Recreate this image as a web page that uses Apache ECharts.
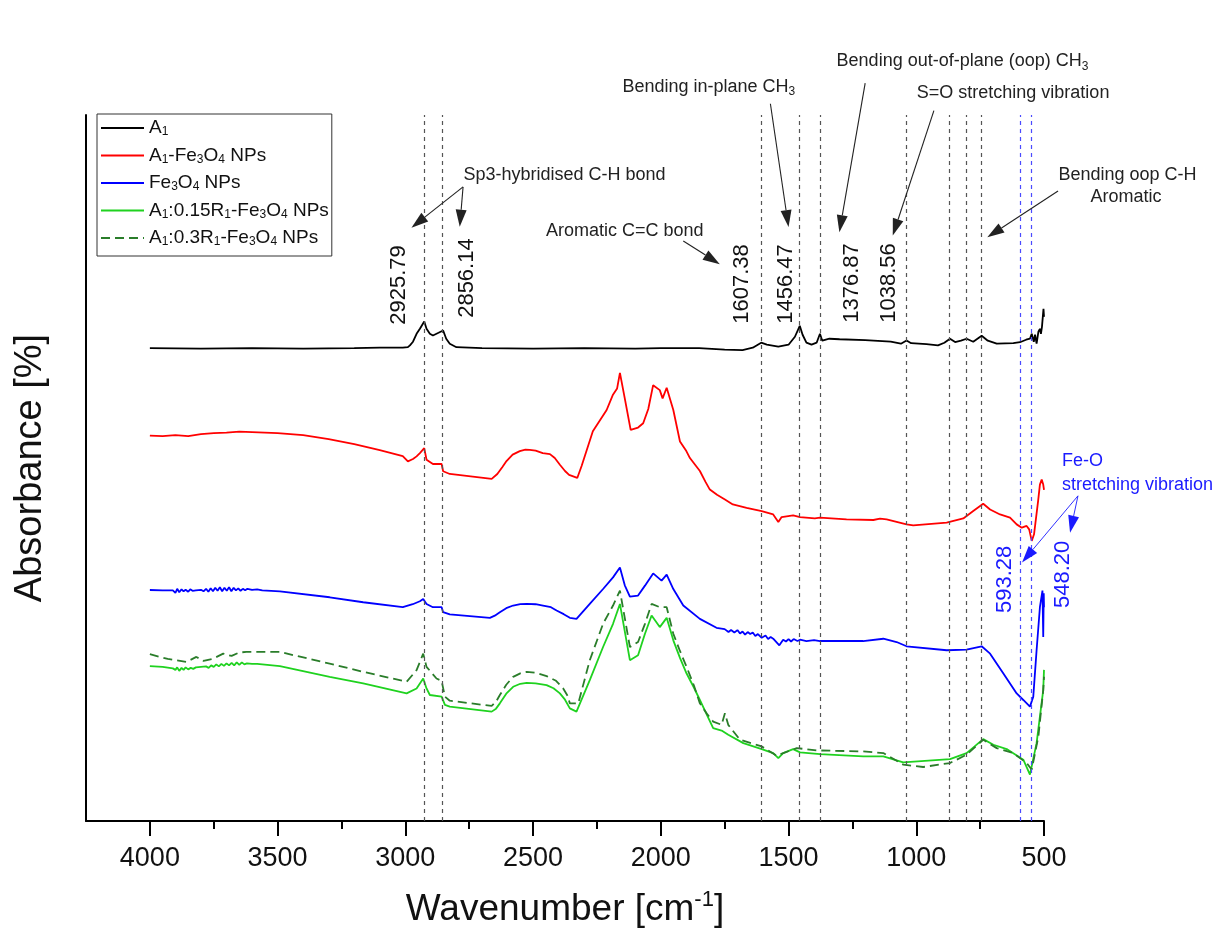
<!DOCTYPE html>
<html>
<head>
<meta charset="utf-8">
<script src="https://cdn.jsdelivr.net/npm/echarts@6/dist/echarts.min.js"></script>
<style>
  html, body { margin: 0; padding: 0; background: #ffffff; }
  #chart { width: 1221px; height: 936px; }
</style>
</head>
<body>
<div id="chart"></div>
<script>
// FTIR spectra: [wavenumber (cm-1), absorbance (offset, arb. units)]
const a1 = [[4000,47.55],[3800,47.5],[3600,47.55],[3400,47.5],[3200,47.55],[3100,47.6],[3010,47.6],[2990,47.65],[2982,47.83],[2970,48.2],[2956,49.0],[2943,49.5],[2926,50.23],[2917,49.5],[2904,49.0],[2892,48.83],[2870,49.1],[2852,49.33],[2840,48.5],[2826,48.0],[2800,47.65],[2700,47.55],[2500,47.5],[2300,47.55],[2100,47.5],[2000,47.55],[1850,47.55],[1750,47.4],[1680,47.35],[1640,47.6],[1607,48.1],[1585,47.9],[1540,47.7],[1500,47.9],[1475,48.7],[1456,49.8],[1445,48.9],[1430,48.1],[1410,47.9],[1390,48.1],[1377,49.0],[1368,48.3],[1340,48.5],[1300,48.45],[1200,48.35],[1100,48.2],[1060,48.0],[1038,48.33],[1020,48.05],[960,47.95],[915,47.83],[890,48.1],[868,48.5],[848,48.17],[825,48.3],[803,48.5],[777,48.2],[744,48.8],[720,48.3],[685,48.0],[620,48.05],[594,48.15],[570,48.4],[555,48.5],[548,49.0],[540,48.2],[535,48.9],[529,48.0],[522,49.2],[516,49.5],[512,49.0],[508,49.7],[504,49.9],[502,51.5],[500,50.7]];

const a1Fe3O4 = [[4000,38.75],[3950,38.7],[3900,38.8],[3850,38.7],[3800,38.9],[3750,39.0],[3700,39.05],[3650,39.15],[3600,39.1],[3550,39.05],[3500,39.0],[3400,38.8],[3300,38.4],[3200,37.9],[3100,37.3],[3010,36.7],[2990,36.17],[2970,36.4],[2956,36.67],[2943,37.0],[2926,37.5],[2917,36.33],[2892,35.9],[2858,35.9],[2852,35.17],[2826,34.9],[2662,34.4],[2640,34.9],[2620,35.6],[2604,36.2],[2580,36.85],[2552,37.2],[2530,37.35],[2513,37.33],[2490,37.25],[2462,37.0],[2434,36.9],[2415,36.5],[2395,35.83],[2375,35.2],[2359,34.8],[2327,34.5],[2310,35.7],[2266,39.2],[2212,41.33],[2188,42.83],[2171,43.5],[2160,45.07],[2141,42.5],[2118,39.33],[2089,39.57],[2069,40.0],[2049,41.43],[2030,43.83],[2004,43.33],[1993,42.5],[1977,43.57],[1951,41.33],[1925,38.17],[1900,37.2],[1886,36.5],[1865,35.8],[1847,35.2],[1825,34.1],[1808,33.33],[1780,32.8],[1749,32.33],[1718,31.83],[1664,31.5],[1605,31.17],[1560,30.83],[1540,30.07],[1527,30.57],[1482,30.73],[1455,30.57],[1397,30.43],[1377,30.5],[1273,30.33],[1168,30.27],[1142,30.4],[1116,30.33],[1038,29.83],[1012,29.73],[881,30.0],[816,30.43],[777,31.17],[738,31.9],[711,31.33],[672,30.83],[633,30.5],[607,29.83],[587,29.5],[568,29.67],[558,29.33],[548,28.17],[539,28.83],[523,32.2],[516,33.83],[509,34.33],[503,33.83],[500,33.3]];

const fe3o4 = [[4000,23.23],[3950,23.2],[3910,23.2],[3900,22.95],[3893,23.35],[3885,23.0],[3876,23.3],[3868,23.1],[3860,23.25],[3850,23.05],[3842,23.3],[3833,23.15],[3820,23.2],[3800,23.25],[3790,23.1],[3780,23.35],[3771,23.05],[3762,23.4],[3753,23.1],[3744,23.45],[3735,23.15],[3726,23.5],[3717,23.1],[3708,23.45],[3699,23.15],[3690,23.5],[3681,23.1],[3672,23.45],[3663,23.2],[3654,23.4],[3645,23.15],[3636,23.35],[3627,23.2],[3618,23.35],[3600,23.25],[3580,23.3],[3560,23.2],[3491,23.1],[3296,22.5],[3165,22.0],[3010,21.5],[2971,21.8],[2943,22.1],[2930,22.33],[2917,21.83],[2892,21.5],[2858,21.5],[2852,21.0],[2826,20.77],[2669,20.43],[2650,20.65],[2630,21.0],[2605,21.4],[2578,21.67],[2550,21.82],[2525,21.83],[2490,21.8],[2461,21.67],[2430,21.5],[2408,21.17],[2380,20.8],[2356,20.43],[2330,20.33],[2278,21.83],[2226,23.33],[2187,24.5],[2160,25.5],[2141,23.7],[2121,22.57],[2089,22.67],[2062,23.67],[2030,24.9],[1997,24.17],[1977,24.77],[1951,23.33],[1912,21.67],[1847,20.33],[1782,19.43],[1750,19.3],[1735,19.0],[1725,19.2],[1712,18.95],[1700,19.2],[1690,18.85],[1680,19.05],[1670,18.75],[1660,19.0],[1650,18.8],[1640,18.95],[1630,18.6],[1620,18.8],[1605,18.43],[1590,18.65],[1580,18.3],[1570,18.5],[1560,18.33],[1536,17.67],[1521,18.23],[1510,18.05],[1500,18.3],[1490,18.05],[1480,18.3],[1465,18.1],[1455,18.23],[1430,18.1],[1400,18.2],[1377,18.1],[1208,18.1],[1129,18.33],[1077,18.0],[1038,17.57],[881,17.17],[803,17.23],[744,17.57],[711,16.83],[659,14.83],[607,12.83],[581,12.17],[555,11.5],[542,12.5],[529,17.17],[516,21.5],[506,23.17],[503,18.5],[501,22.9],[500,21.5]];

const a1R015 = [[4000,15.57],[3950,15.5],[3910,15.35],[3900,15.2],[3893,15.45],[3885,15.1],[3876,15.4],[3868,15.2],[3860,15.45],[3850,15.25],[3840,15.4],[3830,15.3],[3820,15.45],[3800,15.5],[3780,15.55],[3770,15.4],[3760,15.65],[3750,15.5],[3740,15.75],[3730,15.55],[3720,15.8],[3710,15.6],[3700,15.85],[3690,15.65],[3680,15.9],[3670,15.65],[3660,15.95],[3650,15.7],[3640,15.95],[3630,15.75],[3620,15.85],[3600,15.8],[3580,15.8],[3560,15.75],[3491,15.57],[3296,14.5],[3165,13.83],[2995,12.83],[2956,13.33],[2930,14.33],[2917,13.33],[2904,12.67],[2858,12.5],[2845,11.67],[2826,11.5],[2662,11.0],[2645,11.3],[2630,11.83],[2605,12.8],[2578,13.5],[2550,13.8],[2525,13.9],[2490,13.85],[2447,13.67],[2420,13.35],[2395,12.83],[2375,12.2],[2356,11.33],[2330,11.0],[2278,14.17],[2226,17.5],[2187,19.83],[2160,21.83],[2121,16.17],[2089,16.67],[2062,18.83],[2036,20.67],[2004,19.5],[1977,20.43],[1951,18.17],[1925,16.4],[1899,14.83],[1870,13.4],[1847,12.17],[1820,10.7],[1795,9.33],[1762,9.1],[1756,9.0],[1736,8.67],[1677,7.83],[1605,7.23],[1560,6.83],[1540,6.33],[1521,6.83],[1482,7.23],[1455,6.9],[1377,6.73],[1208,6.5],[1129,6.5],[1051,5.9],[868,6.23],[803,6.83],[738,8.23],[698,7.67],[646,7.23],[581,6.17],[555,4.67],[529,7.83],[503,13.17],[500,15.2]];

const a1R03 = [[4000,16.77],[3930,16.3],[3857,16.0],[3818,16.5],[3790,16.1],[3752,16.33],[3713,16.83],[3680,16.6],[3650,16.95],[3622,17.0],[3491,17.0],[3296,15.83],[3165,15.0],[2995,14.0],[2956,15.17],[2930,16.83],[2917,15.5],[2878,14.33],[2858,14.1],[2845,12.5],[2826,12.1],[2662,11.57],[2645,12.0],[2630,12.67],[2605,13.7],[2578,14.5],[2550,14.85],[2525,15.0],[2490,14.9],[2447,14.57],[2410,14.1],[2382,13.33],[2365,12.6],[2356,11.83],[2323,11.83],[2278,16.17],[2226,19.83],[2187,21.67],[2160,23.17],[2121,17.5],[2089,18.0],[2062,19.83],[2036,21.83],[2004,21.5],[1977,21.5],[1951,18.83],[1925,17.1],[1899,15.5],[1870,13.6],[1847,11.83],[1820,10.8],[1795,10.0],[1762,9.67],[1749,10.83],[1736,9.67],[1690,8.17],[1605,7.5],[1547,6.57],[1468,7.33],[1390,7.1],[1208,7.0],[1129,6.83],[1051,5.67],[973,5.43],[868,5.83],[803,6.67],[738,8.17],[685,7.33],[620,6.83],[568,5.83],[548,5.17],[522,8.5],[503,13.17],[500,14.5]];

// Assigned band positions (cm-1)
const peakLines = [2925.79, 2856.14, 1607.38, 1456.47, 1376.87, 1038.56, 871, 806, 745];
const labelledPeaks = [2925.79, 2856.14, 1607.38, 1456.47, 1376.87, 1038.56];
const feOPeaks = [593.28, 548.20];

const xTicks = [500, 1000, 1500, 2000, 2500, 3000, 3500, 4000];

const FONT = "'Liberation Sans', Arial, sans-serif";

const seriesDefs = [
  { name: 'A1', data: a1, color: '#000000', dash: 'solid' },
  { name: 'A1-Fe3O4 NPs', data: a1Fe3O4, color: '#ff0000', dash: 'solid' },
  { name: 'Fe3O4 NPs', data: fe3o4, color: '#0000ff', dash: 'solid' },
  { name: 'A1:0.15R1-Fe3O4 NPs', data: a1R015, color: '#1fd21f', dash: 'solid' },
  { name: 'A1:0.3R1-Fe3O4 NPs', data: a1R03, color: '#2a7d2a', dash: [9, 5] }
];

function subscriptName(name) {
  return name.replace(/([A-Za-z])(\d+)/g, '$1{s|$2}');
}

const series = seriesDefs.map(function (d) {
  return {
    name: d.name,
    type: 'line',
    data: d.data,
    showSymbol: false,
    symbol: 'none',
    color: d.color,
    lineStyle: { color: d.color, width: 1.8, type: d.dash },
    z: 3
  };
});

// dashed band markers
series[0].markLine = {
  silent: true, symbol: 'none', animation: false,
  label: { show: false },
  lineStyle: { color: '#555555', width: 1.2, type: [4, 4] },
  data: peakLines.map(function (v) { return { xAxis: v }; })
};
series[2].markLine = {
  silent: true, symbol: 'none', animation: false,
  label: { show: false },
  lineStyle: { color: '#4a4aff', width: 1.2, type: [4, 4] },
  data: feOPeaks.map(function (v) { return { xAxis: v }; })
};

const option = {
  animation: false,
  backgroundColor: '#ffffff',
  grid: { left: 86, right: 177, top: 115, bottom: 111 },
  legend: {
    orient: 'vertical',
    left: 97, top: 114,
    padding: [4, 3, 8, 3],
    itemWidth: 43, itemHeight: 20, itemGap: 7.5,
    borderColor: '#333333', borderWidth: 1,
    backgroundColor: '#ffffff',
    selectedMode: false,
    itemStyle: { color: 'rgba(0,0,0,0)', borderWidth: 0, opacity: 0 },
    formatter: subscriptName,
    textStyle: {
      fontFamily: FONT, fontSize: 19, color: '#111111', lineHeight: 20,
      rich: {
        s: { fontFamily: FONT, fontSize: 12, lineHeight: 12, verticalAlign: 'bottom', color: '#111111' }
      }
    },
    data: seriesDefs.map(function (d) { return d.name; })
  },
  xAxis: {
    type: 'value',
    min: 500, max: 4250, interval: 500, inverse: true,
    name: 'Wavenumber [cm{sup|-1}]',
    nameLocation: 'middle', nameGap: 68,
    nameTextStyle: {
      fontFamily: FONT, fontSize: 37, color: '#111111', lineHeight: 42,
      rich: { sup: { fontFamily: FONT, fontSize: 22, lineHeight: 22, verticalAlign: 'top', color: '#111111' } }
    },
    axisLine: { show: true, onZero: false, lineStyle: { color: '#000000', width: 2 } },
    axisTick: { show: true, length: 15, customValues: xTicks, lineStyle: { color: '#000000', width: 2 } },
    minorTick: { show: true, splitNumber: 2, length: 8, lineStyle: { color: '#000000', width: 2 } },
    axisLabel: {
      customValues: xTicks, fontFamily: FONT, fontSize: 27, color: '#111111', margin: 24,
      formatter: function (v) { return String(v); }
    },
    splitLine: { show: false },
    minorSplitLine: { show: false }
  },
  yAxis: {
    type: 'value', min: 0, max: 71,
    name: 'Absorbance [%]',
    nameLocation: 'middle', nameGap: 36,
    nameTextStyle: { fontFamily: FONT, fontSize: 38, color: '#111111' },
    axisLine: { show: true, onZero: false, lineStyle: { color: '#000000', width: 2 } },
    axisTick: { show: false },
    axisLabel: { show: false },
    splitLine: { show: false }
  },
  series: series
};

const chart = echarts.init(document.getElementById('chart'), null, { renderer: 'canvas' });
chart.setOption(option);

// ---- annotations placed in data coordinates ----
const noteTexts = [
  { text: 'Sp3-hybridised C-H bond', at: [2377, 65.0] },
  { text: 'Aromatic C=C bond', at: [2141, 59.3] },
  { text: 'Bending in-plane CH{s|3}', at: [1812, 73.85] },
  { text: 'Bending out-of-plane (oop) CH{s|3}', at: [819, 76.4] },
  { text: 'S=O stretching vibration', at: [621, 73.2] },
  { text: 'Bending oop C-H', at: [173, 65.0] },
  { text: 'Aromatic', at: [179, 62.8] }
];
const feONotes = [
  { text: 'Fe-O', at: [430, 36.2] },
  { text: 'stretching vibration', at: [430, 33.8] }
];
const peakLabelPos = [[3025, 53.9], [2759, 54.6], [1682, 54.0], [1510, 54.0], [1252, 54.1], [1107, 54.1]];
const feOLabelPos = [[653, 24.3], [426, 24.8]];

const arrows = [
  { from: [2774, 63.77], to: [2976, 59.67] },
  { from: [2774, 63.77], to: [2787, 59.77] },
  { from: [1912, 58.33], to: [1769, 56.0] },
  { from: [1571, 72.13], to: [1500, 59.73] },
  { from: [1200, 74.2], to: [1301, 59.22] },
  { from: [931, 71.44], to: [1092, 58.87] },
  { from: [445, 63.35], to: [722, 58.7] }
];
const feOArrows = [
  { from: [367, 32.7], to: [586, 26.0] },
  { from: [367, 32.7], to: [398, 29.0] }
];

function toPx(p) { return chart.convertToPixel({ gridIndex: 0 }, p); }

function textEl(t, color, extra) {
  const p = toPx(t.at);
  const rich = {
    s: { fontFamily: FONT, fontSize: 12, lineHeight: 13, verticalAlign: 'bottom', fill: color }
  };
  return Object.assign({
    type: 'text', x: p[0], y: p[1], z: 10, silent: true,
    style: {
      text: t.text, fill: color, fontFamily: FONT, fontSize: 18, lineHeight: 22,
      align: 'center', verticalAlign: 'middle', rich: rich
    }
  }, extra || {});
}

function arrowEls(a, color, width) {
  const p0 = toPx(a.from), p1 = toPx(a.to);
  const dx = p1[0] - p0[0], dy = p1[1] - p0[1];
  const len = Math.sqrt(dx * dx + dy * dy);
  const ux = dx / len, uy = dy / len;
  const headLen = 17, headHalf = 5.5;
  const bx = p1[0] - ux * headLen, by = p1[1] - uy * headLen;
  return [
    { type: 'line', silent: true, z: 9,
      shape: { x1: p0[0], y1: p0[1], x2: bx, y2: by },
      style: { stroke: color, lineWidth: width } },
    { type: 'polygon', silent: true, z: 9,
      shape: { points: [[p1[0], p1[1]], [bx - uy * headHalf, by + ux * headHalf], [bx + uy * headHalf, by - ux * headHalf]] },
      style: { fill: color } }
  ];
}

const elements = [];
noteTexts.forEach(function (t) { elements.push(textEl(t, '#222222')); });
feONotes.forEach(function (t) {
  const el = textEl(t, '#1a1aff');
  el.style.align = 'left';
  elements.push(el);
});
labelledPeaks.forEach(function (v, i) {
  elements.push(textEl({ text: v.toFixed(2), at: peakLabelPos[i] }, '#111111',
    { rotation: Math.PI / 2 }));
});
feOPeaks.forEach(function (v, i) {
  elements.push(textEl({ text: v.toFixed(2), at: feOLabelPos[i] }, '#1a1aff',
    { rotation: Math.PI / 2 }));
});
elements.forEach(function (el) {
  if (el.rotation) { el.style.fontSize = 22; el.style.lineHeight = 24; }
});
arrows.forEach(function (a) { arrowEls(a, '#222222', 1.1).forEach(function (e) { elements.push(e); }); });
feOArrows.forEach(function (a) { arrowEls(a, '#1a1aff', 0.9).forEach(function (e) { elements.push(e); }); });

chart.setOption({ graphic: { elements: elements } });
</script>
</body>
</html>
